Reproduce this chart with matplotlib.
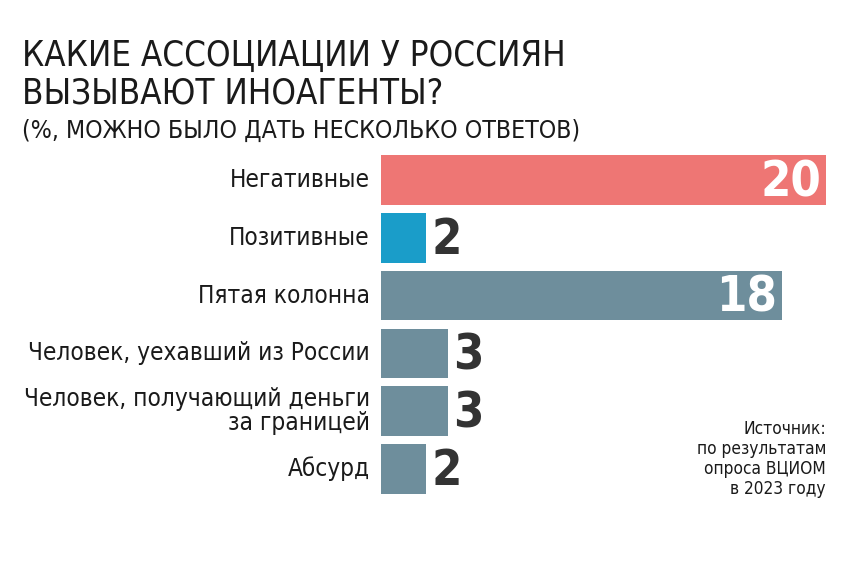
import matplotlib
matplotlib.use("Agg")
import matplotlib.pyplot as plt

# data
categories = ["Негативные", "Позитивные", "Пятая колонна",
              "Человек, уехавший из России",
              "Человек, получающий деньги\nза границей", "Абсурд"]
values = [20, 2, 18, 3, 3, 2]
colors = ["#EE7674", "#1A9DC9", "#6E8E9C", "#6E8E9C", "#6E8E9C", "#6E8E9C"]

TITLE = "КАКИЕ АССОЦИАЦИИ У РОССИЯН\nВЫЗЫВАЮТ ИНОАГЕНТЫ?"
SUBTITLE = "(%, МОЖНО БЫЛО ДАТЬ НЕСКОЛЬКО ОТВЕТОВ)"
SOURCE = "Источник:\nпо результатам\nопроса ВЦИОМ\nв 2023 году"

# narrow face, close to the newspaper look
plt.rcParams["font.family"] = ["DejaVu Sans"]
plt.rcParams["font.stretch"] = "condensed"

TEXT = "#1a1a1a"

fig = plt.figure(figsize=(8.68, 5.76), dpi=100)
fig.patch.set_facecolor("white")
ax = fig.add_axes([381 / 868, 1 - 498 / 576, 445 / 868, 347 / 576])

pos = list(range(len(values)))
ax.barh(pos, values, height=0.86, color=colors)
ax.set_xlim(0, 20)
ax.set_ylim(len(values) - 0.5, -0.5)
ax.axis("off")

for y, (lab, v) in enumerate(zip(categories, values)):
    ax.text(-0.5, y, lab, ha="right", va="center", fontsize=17.5,
            color=TEXT, linespacing=1.0)
    if v >= 10:
        ax.text(v - 0.2, y + 0.04, str(v), ha="right", va="center",
                fontsize=35, fontweight="bold", color="white")
    else:
        ax.text(v + 0.25, y + 0.04, str(v), ha="left", va="center",
                fontsize=35, fontweight="bold", color="#333333")

fig.text(22 / 868, 1 - 39 / 576, TITLE, ha="left", va="top",
         fontsize=25, color=TEXT, linespacing=1.12)
fig.text(22 / 868, 1 - 119 / 576, SUBTITLE, ha="left", va="top",
         fontsize=17.8, color=TEXT)
fig.text(826 / 868, 1 - 420 / 576, SOURCE, ha="right", va="top",
         fontsize=12.4, color=TEXT, linespacing=1.15)

fig.savefig("out.png", dpi=100)
